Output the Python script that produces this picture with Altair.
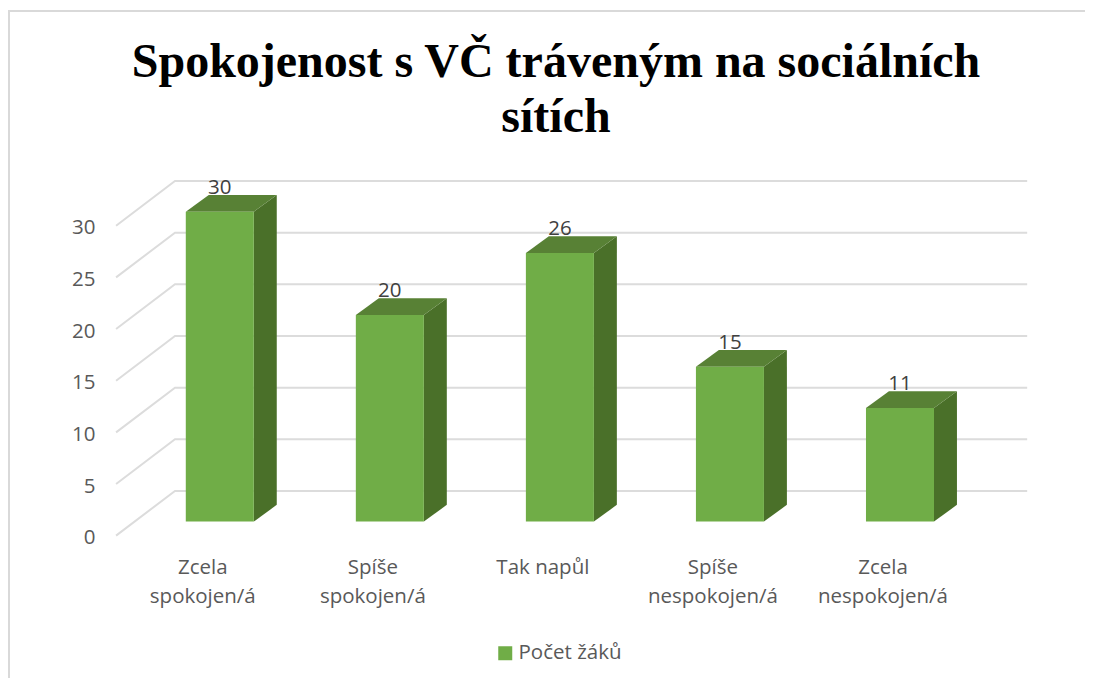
import altair as alt
import pandas as pd

categories = ["Zcela\nspokojen/á", "Spíše\nspokojen/á", "Tak napůl", "Spíše\nnespokojen/á", "Zcela\nnespokojen/á"]
values = [30, 20, 26, 15, 11]
y_ticks = [0, 5, 10, 15, 20, 25, 30]
series_name = "Počet žáků"
title_lines = ["Spokojenost s VČ tráveným na sociálních", "sítích"]

W, H = 1077, 670
X_DOM = [-1.2455, 5.088]
Y_DOM = [-13.78, 51.08]
HALF = 0.2
DX, DY = 0.135, 1.62        # bar depth
BASE = 1.36                 # bar floor above front axis zero
WALL_DX_L, WALL_X0, WALL_X1, WALL_DY = -0.61, -0.2635, 4.748, 4.33

FONT = "Open Sans"
SIZE = 20.5
xs = alt.Scale(domain=X_DOM, nice=False, zero=False)
ys = alt.Scale(domain=Y_DOM, nice=False, zero=False)
y_axis = alt.Axis(values=y_ticks, domain=False, ticks=False, grid=False, offset=-87,
                  labelFont=FONT, labelFontSize=SIZE, labelColor="#595959", labelPadding=0,
                  labelOffset=2, format="d", title=None)
X = lambda f: alt.X(f, type="quantitative", scale=xs, axis=None, title=None)
Y = lambda f: alt.Y(f, type="quantitative", scale=ys, axis=y_axis)

grid_rows = []
for v in y_ticks:
    grid_rows += [
        {"k": v, "o": 0, "x": WALL_DX_L, "y": v},
        {"k": v, "o": 1, "x": WALL_X0, "y": v + WALL_DY},
        {"k": v, "o": 2, "x": WALL_X1, "y": v + WALL_DY},
    ]
grid = alt.Chart(pd.DataFrame(grid_rows)).mark_line(color="#dcdcdc", strokeWidth=2).encode(
    x=X("x"), y=Y("y"), detail="k:N", order="o:Q")

side_rows, top_rows, front_rows, label_rows, cat_rows = [], [], [], [], []
for i, (c, v) in enumerate(zip(categories, values)):
    l, r, b, t = i - HALF, i + HALF, BASE, BASE + v
    side_rows += [
        {"k": i, "x": r, "y": b, "y2": t},
        {"k": i, "x": r + DX, "y": b + DY, "y2": t + DY},
    ]
    top_rows += [
        {"k": i, "x": l, "y": t, "y2": t},
        {"k": i, "x": l + DX, "y": t, "y2": t + DY},
        {"k": i, "x": r, "y": t, "y2": t + DY},
        {"k": i, "x": r + DX, "y": t + DY, "y2": t + DY},
    ]
    front_rows.append({"x": l, "x2": r, "y": b, "y2": t, "s": series_name})
    label_rows.append({"x": i, "y": t + DY, "t": str(v)})
    cat_rows.append({"x": i - 0.1, "y": -2.2, "t": c})


def face(rows, color):
    return alt.Chart(pd.DataFrame(rows)).mark_area(color=color, orient="vertical", line=False).encode(
        x=X("x"), y=Y("y"), y2="y2:Q", detail="k:N")


side = face(side_rows, "#4a7029")
top = face(top_rows, "#588135")
front = alt.Chart(pd.DataFrame(front_rows)).mark_rect().encode(
    x=X("x"), x2="x2:Q", y=Y("y"), y2="y2:Q",
    color=alt.Color("s:N", title=None,
                    scale=alt.Scale(domain=[series_name], range=["#70ad47"]),
                    legend=alt.Legend(orient="none", legendX=487, legendY=635, symbolType="square",
                                      symbolSize=196, symbolStrokeWidth=0, labelFont=FONT,
                                      labelOffset=3, labelFontSize=SIZE, labelColor="#595959",
                                      labelLimit=300, padding=0)))
labels = alt.Chart(pd.DataFrame(label_rows)).mark_text(
    font=FONT, fontSize=SIZE, color="#404040", baseline="alphabetic", align="center", dy=-1).encode(
    x=X("x"), y=Y("y"), text="t:N")
cats = alt.Chart(pd.DataFrame(cat_rows)).mark_text(
    font=FONT, fontSize=SIZE, color="#595959", baseline="top", align="center",
    lineBreak="\n", lineHeight=29).encode(x=X("x"), y=Y("y"), text="t:N")

b1 = alt.Chart(pd.DataFrame({"a": [0]})).mark_rule(color="#d9d9d9", strokeWidth=2).encode(
    x=alt.value(1), y=alt.value(3), y2=alt.value(H))
b2 = alt.Chart(pd.DataFrame({"a": [0]})).mark_rule(color="#d9d9d9", strokeWidth=2).encode(
    x=alt.value(0), x2=alt.value(W), y=alt.value(3))

chart = alt.layer(b1, b2, grid, side, top, front, labels, cats).properties(
    width=W, height=H, padding=0, autosize=alt.AutoSizeParams(type="none"),
    title=alt.TitleParams(text=title_lines, font="Liberation Serif", fontSize=48, fontWeight="bold",
                          color="#000000", anchor="middle", dx=9.5, dy=176, lineHeight=55, baseline="alphabetic"),
).configure_view(stroke=None)

chart.save("out.html", embed_options={"renderer": "svg", "actions": False})
